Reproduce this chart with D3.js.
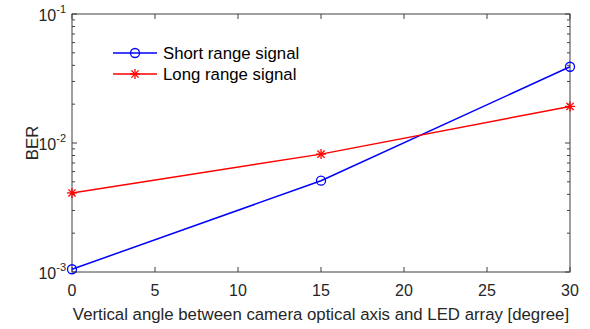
<!DOCTYPE html>
<html>
<head>
<meta charset="utf-8">
<script src="https://cdn.jsdelivr.net/npm/d3@7"></script>
<style>
  body { margin: 0; background: #fff; }
  svg { display: block; font-family: "Liberation Sans", Arial, sans-serif; }
</style>
</head>
<body>
<svg id="chart" width="590" height="329"></svg>
<script>
// data
let angles = [0, 15, 30];
let shortRange = [1.05e-3, 5.1e-3, 3.9e-2];
let longRange = [4.1e-3, 8.2e-3, 1.92e-2];
let xTicks = [0, 5, 10, 15, 20, 25, 30];
let yDecades = [-3, -2, -1];
let seriesNames = ["Short range signal", "Long range signal"];

let svg = d3.select("#chart");
let margin = { left: 72, right: 20, top: 14, bottom: 57 };
let width = 590, height = 329;
let axisCol = "#404040", textCol = "#262626";

let x = d3.scaleLinear().domain([0, 30]).range([margin.left, width - margin.right]);
let y = d3.scaleLog().domain([1e-3, 1e-1]).range([height - margin.bottom, margin.top]);

// minor log ticks
let minors = [];
for (let d of [-3, -2]) {
  for (let m = 2; m <= 9; m++) minors.push(m * Math.pow(10, d));
}

let g = svg.append("g");

// box
g.append("rect")
  .attr("x", x(0)).attr("y", y(1e-1))
  .attr("width", x(30) - x(0)).attr("height", y(1e-3) - y(1e-1))
  .attr("fill", "none").attr("stroke", axisCol).attr("stroke-width", 1);

// x ticks (bottom and top)
for (let t of xTicks) {
  g.append("line").attr("x1", x(t)).attr("x2", x(t))
    .attr("y1", y(1e-3)).attr("y2", y(1e-3) - 5).attr("stroke", axisCol);
  g.append("line").attr("x1", x(t)).attr("x2", x(t))
    .attr("y1", y(1e-1)).attr("y2", y(1e-1) + 5).attr("stroke", axisCol);
  g.append("text").attr("x", x(t)).attr("y", y(1e-3) + 24)
    .attr("text-anchor", "middle").attr("font-size", 16).attr("fill", textCol)
    .text(t);
}

// y ticks
let yt = yDecades.map(d => Math.pow(10, d));
for (let v of yt) {
  g.append("line").attr("x1", x(0)).attr("x2", x(0) + 5)
    .attr("y1", y(v)).attr("y2", y(v)).attr("stroke", axisCol);
  g.append("line").attr("x1", x(30)).attr("x2", x(30) - 5)
    .attr("y1", y(v)).attr("y2", y(v)).attr("stroke", axisCol);
}
for (let v of minors) {
  g.append("line").attr("x1", x(0)).attr("x2", x(0) + 3)
    .attr("y1", y(v)).attr("y2", y(v)).attr("stroke", axisCol);
  g.append("line").attr("x1", x(30)).attr("x2", x(30) - 3)
    .attr("y1", y(v)).attr("y2", y(v)).attr("stroke", axisCol);
}
for (let d of yDecades) {
  let t = g.append("text").attr("x", x(0) - 6).attr("y", y(Math.pow(10, d)) + 7)
    .attr("text-anchor", "end").attr("font-size", 16).attr("fill", textCol);
  t.append("tspan").text("10");
  t.append("tspan").attr("dy", -8).attr("font-size", 11).text(d);
}

// axis labels
g.append("text")
  .attr("x", (x(0) + x(30)) / 2).attr("y", height - 9)
  .attr("text-anchor", "middle").attr("font-size", 16.8).attr("fill", textCol)
  .text("Vertical angle between camera optical axis and LED array [degree]");
g.append("text")
  .attr("transform", `translate(${x(0) - 34}, ${(y(1e-3) + y(1e-1)) / 2}) rotate(-90)`)
  .attr("text-anchor", "middle").attr("font-size", 16.8).attr("fill", textCol)
  .text("BER");

// lines
let line = d3.line().x((d, i) => x(angles[i])).y(d => y(d));
g.append("path").datum(shortRange).attr("d", line)
  .attr("fill", "none").attr("stroke", "#0000ff").attr("stroke-width", 1.5);
g.append("path").datum(longRange).attr("d", line)
  .attr("fill", "none").attr("stroke", "#ff0000").attr("stroke-width", 1.5);

function circleMarker(sel, cx, cy) {
  sel.append("circle").attr("cx", cx).attr("cy", cy).attr("r", 4.5)
    .attr("fill", "none").attr("stroke", "#0000ff").attr("stroke-width", 1.3);
}
function starMarker(sel, cx, cy) {
  let r = 5;
  let p = sel.append("g").attr("stroke", "#ff0000").attr("stroke-width", 1.3);
  p.append("line").attr("x1", cx - r).attr("x2", cx + r).attr("y1", cy).attr("y2", cy);
  p.append("line").attr("x1", cx).attr("x2", cx).attr("y1", cy - r).attr("y2", cy + r);
  let k = r * 0.72;
  p.append("line").attr("x1", cx - k).attr("x2", cx + k).attr("y1", cy - k).attr("y2", cy + k);
  p.append("line").attr("x1", cx - k).attr("x2", cx + k).attr("y1", cy + k).attr("y2", cy - k);
}
shortRange.forEach((v, i) => circleMarker(g, x(angles[i]), y(v)));
longRange.forEach((v, i) => starMarker(g, x(angles[i]), y(v)));

// legend
let legY = [53, 74];
let lx1 = 113, lx2 = 157;
seriesNames.forEach((name, i) => {
  let col = i === 0 ? "#0000ff" : "#ff0000";
  g.append("line").attr("x1", lx1).attr("x2", lx2).attr("y1", legY[i]).attr("y2", legY[i])
    .attr("stroke", col).attr("stroke-width", 1.5);
  if (i === 0) circleMarker(g, (lx1 + lx2) / 2, legY[i]);
  else starMarker(g, (lx1 + lx2) / 2, legY[i]);
  g.append("text").attr("x", lx2 + 6).attr("y", legY[i] + 6)
    .attr("font-size", 16.8).attr("fill", "#000").text(name);
});
</script>
</body>
</html>
